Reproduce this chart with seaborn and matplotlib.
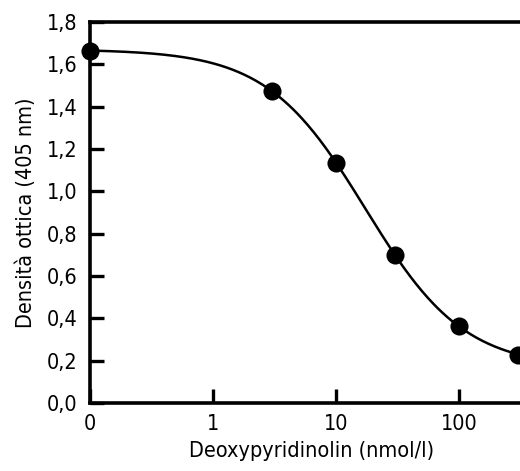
import numpy as np
import pandas as pd
import matplotlib
matplotlib.use("Agg")
import matplotlib.pyplot as plt
import seaborn as sns
from matplotlib import font_manager

# Data
concentration = [0, 3, 10, 30, 100, 300]          # nmol/l
optical_density = [1.665, 1.475, 1.136, 0.698, 0.366, 0.229]
x_tick_values = [0, 1, 10, 100]
x_tick_labels = ["0", "1", "10", "100"]
y_tick_values = [0.0, 0.2, 0.4, 0.6, 0.8, 1.0, 1.2, 1.4, 1.6, 1.8]
y_tick_labels = ["0,0", "0,2", "0,4", "0,6", "0,8", "1,0", "1,2", "1,4", "1,6", "1,8"]

ZERO_POS = 0.1  # the "0" standard is drawn at the 0.1 position on the log axis

sns.set_theme(style="ticks")
plt.rcParams["font.family"] = ["DejaVu Sans"]
plt.rcParams["font.stretch"] = "condensed"

df = pd.DataFrame({"conc": concentration, "od": optical_density})
df["xpos"] = df["conc"].replace(0, ZERO_POS)

# 4-parameter logistic fit to the data (grid search on b, c; linear LSQ for a, d)
xs = df["xpos"].to_numpy(float)
ys = df["od"].to_numpy(float)
best = None
for b in np.linspace(0.5, 2.0, 151):
    for lc in np.linspace(0.0, 2.5, 251):
        c = 10 ** lc
        g = 1.0 / (1.0 + (xs / c) ** b)
        A = np.column_stack([g, 1 - g])
        coef, *_ = np.linalg.lstsq(A, ys, rcond=None)
        r = np.sum((A @ coef - ys) ** 2)
        if best is None or r < best[0]:
            best = (r, b, c, coef)
_, b, c, (a, d) = best
xfit = np.logspace(np.log10(ZERO_POS), np.log10(400), 300)
fit = pd.DataFrame({"x": xfit, "y": d + (a - d) / (1 + (xfit / c) ** b)})

W, H = 520, 471
fig = plt.figure(figsize=(W / 100, H / 100), dpi=100)
left, bottom, top = 90, 68, 449
ax = fig.add_axes([left / W, bottom / H, 443 / W, (top - bottom) / H])
ax.set_xscale("log")

sns.lineplot(data=fit, x="x", y="y", ax=ax, color="black", linewidth=1.8, clip_on=False)
sns.scatterplot(data=df, x="xpos", y="od", ax=ax, color="black", s=170,
                edgecolor="black", linewidth=0, zorder=5, clip_on=False)

ax.set_xlim(ZERO_POS, 400)
ax.set_ylim(0, 1.8)
ax.set_xticks([v if v != 0 else ZERO_POS for v in x_tick_values])
ax.set_xticklabels(x_tick_labels)
ax.xaxis.set_minor_locator(matplotlib.ticker.NullLocator())
ax.set_yticks(y_tick_values)
ax.set_yticklabels(y_tick_labels)

ax.tick_params(axis="both", direction="in", length=10, width=2.4, labelsize=15.5,
               color="black", labelcolor="black")
ax.tick_params(axis="x", pad=8)
ax.tick_params(axis="y", pad=9)
ax.set_xlabel("Deoxypyridinolin (nmol/l)", fontsize=15.5, labelpad=5, color="black")
ax.set_ylabel("Densità ottica (405 nm)", fontsize=15.5, labelpad=8, color="black")

for s in ["left", "bottom", "top"]:
    ax.spines[s].set_linewidth(2.6)
    ax.spines[s].set_color("black")
ax.spines["right"].set_visible(False)

fig.savefig("out.png", dpi=100)
